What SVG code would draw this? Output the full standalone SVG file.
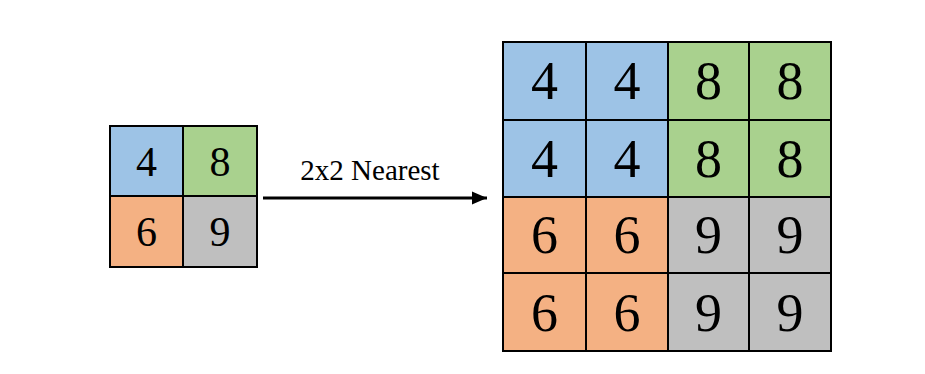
<svg xmlns="http://www.w3.org/2000/svg" width="925" height="374" viewBox="0 0 925 374">
<style>
.c{stroke:#000;stroke-width:2}
.b{fill:#9DC3E6}.g{fill:#A9D18E}.o{fill:#F4B183}.y{fill:#BFBFBF}
text{font-family:"Liberation Serif","Times New Roman",serif;fill:#000;text-anchor:middle}
.s{font-size:42px}.l{font-size:54px}
</style>
<defs>
<marker id="ah" markerWidth="5" markerHeight="4.4" refX="5" refY="2.2" orient="auto" markerUnits="strokeWidth">
<path d="M0,0 L5,2.2 L0,4.4 Z" fill="#000"/>
</marker>
</defs>
<rect width="925" height="374" fill="#fff"/>
<g id="input">
<rect class="c b" x="110" y="126" width="73" height="70"/>
<rect class="c g" x="183" y="126" width="74" height="70"/>
<rect class="c o" x="110" y="196" width="73" height="71"/>
<rect class="c y" x="183" y="196" width="74" height="71"/>
<text class="s" x="146.5" y="176">4</text>
<text class="s" x="220" y="176">8</text>
<text class="s" x="146.5" y="246">6</text>
<text class="s" x="220" y="246">9</text>
</g>
<g id="output">
<rect class="c b" x="503" y="42" width="83" height="78"/>
<rect class="c b" x="586" y="42" width="82" height="78"/>
<rect class="c g" x="668" y="42" width="81" height="78"/>
<rect class="c g" x="749" y="42" width="82" height="78"/>
<rect class="c b" x="503" y="120" width="83" height="77"/>
<rect class="c b" x="586" y="120" width="82" height="77"/>
<rect class="c g" x="668" y="120" width="81" height="77"/>
<rect class="c g" x="749" y="120" width="82" height="77"/>
<rect class="c o" x="503" y="197" width="83" height="76"/>
<rect class="c o" x="586" y="197" width="82" height="76"/>
<rect class="c y" x="668" y="197" width="81" height="76"/>
<rect class="c y" x="749" y="197" width="82" height="76"/>
<rect class="c o" x="503" y="273" width="83" height="78"/>
<rect class="c o" x="586" y="273" width="82" height="78"/>
<rect class="c y" x="668" y="273" width="81" height="78"/>
<rect class="c y" x="749" y="273" width="82" height="78"/>
<text class="l" x="544.5" y="99">4</text>
<text class="l" x="627" y="99">4</text>
<text class="l" x="708.5" y="99">8</text>
<text class="l" x="790" y="99">8</text>
<text class="l" x="544.5" y="177">4</text>
<text class="l" x="627" y="177">4</text>
<text class="l" x="708.5" y="177">8</text>
<text class="l" x="790" y="177">8</text>
<text class="l" x="544.5" y="253">6</text>
<text class="l" x="627" y="253">6</text>
<text class="l" x="708.5" y="253">9</text>
<text class="l" x="790" y="253">9</text>
<text class="l" x="544.5" y="331">6</text>
<text class="l" x="627" y="331">6</text>
<text class="l" x="708.5" y="331">9</text>
<text class="l" x="790" y="331">9</text>
</g>
<g id="connectors">
<line x1="263" y1="198" x2="487" y2="198" stroke="#000" stroke-width="3" marker-end="url(#ah)"/>
<text x="370" y="180" style="font-size:29px">2x2 Nearest</text>
</g>
</svg>
